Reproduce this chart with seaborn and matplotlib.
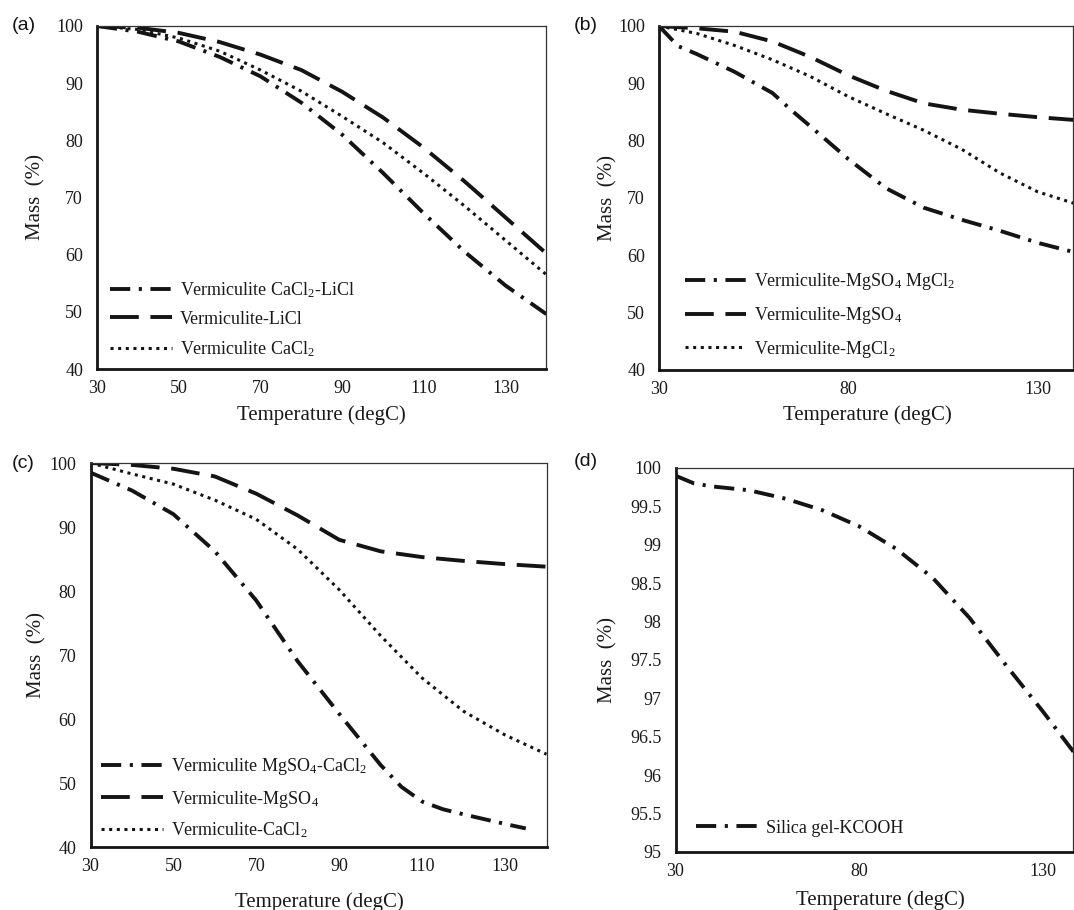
import matplotlib
matplotlib.use("Agg")
import matplotlib.pyplot as plt
import numpy as np
import pandas as pd
import seaborn as sns

# ---------------- data ----------------
T10 = [30, 40, 50, 60, 70, 80, 90, 100, 110, 120, 130, 140]

# (a)
a_cacl2_licl = [100, 99.0, 97.3, 94.6, 91.2, 86.6, 81.0, 74.3, 67.2, 60.5, 54.6, 49.6]
a_licl = [100, 99.7, 98.8, 97.2, 95.0, 92.3, 88.5, 84.0, 78.7, 72.8, 66.5, 60.2]
a_cacl2 = [100, 99.4, 97.9, 95.6, 92.3, 88.6, 84.2, 79.6, 74.2, 68.5, 62.5, 56.5]

# (b)
b_T_dd = [30, 35, 40, 50, 60, 65, 70, 80, 90, 100, 110, 120, 130, 140]
b_mgso4_mgcl2 = [100, 96.5, 95.1, 92.0, 88.3, 85.3, 82.5, 76.8, 71.7, 68.3, 66.2, 64.3, 62.2, 60.5]
b_mgso4 = [100, 99.6, 99.0, 97.3, 94.6, 91.4, 88.7, 86.5, 85.4, 84.7, 84.1, 83.6]
b_mgcl2 = [100, 98.7, 96.6, 94.1, 91.2, 87.7, 84.7, 81.8, 78.5, 74.4, 71.1, 69.0]

# (c)
c_T_dd = [30, 40, 50, 60, 70, 80, 90, 100, 105, 110, 115, 120, 130, 135]
c_mgso4_cacl2 = [98.5, 95.7, 92.0, 86.2, 78.5, 69.0, 60.8, 52.8, 49.4, 47.1, 45.9, 45.1, 43.6, 42.9]
c_mgso4 = [100, 99.7, 99.1, 97.9, 95.2, 91.8, 88.0, 86.2, 85.3, 84.7, 84.2, 83.8]
c_cacl2 = [100, 98.3, 96.7, 94.2, 91.2, 86.5, 80.2, 73.0, 66.4, 61.2, 57.5, 54.5]

# (d)
d_T = [30, 35, 40, 50, 60, 70, 80, 90, 100, 110, 120, 130, 140]
d_silica_kcooh = [99.9, 99.8, 99.76, 99.71, 99.60, 99.45, 99.24, 98.95, 98.57, 98.05, 97.43, 96.83, 96.2]

# ---------------- style ----------------
sns.set_theme(style="white")
plt.rcParams["font.family"] = ["Liberation Serif", "DejaVu Serif"]
plt.rcParams["mathtext.fontset"] = "custom"
plt.rcParams["mathtext.rm"] = "Liberation Serif"
plt.rcParams["mathtext.it"] = "Liberation Serif:italic"
plt.rcParams["text.color"] = "#1a1a1a"
plt.rcParams["axes.labelcolor"] = "#1a1a1a"
plt.rcParams["xtick.color"] = "#1a1a1a"
plt.rcParams["ytick.color"] = "#1a1a1a"

INK = "#141414"
DASHDOT = dict(lw=2.8, ls=(0, (5.2, 2.2, 0.8, 2.2)))
LONGDASH = dict(lw=2.8, ls=(0, (7.4, 3.0)))
DOTTED = dict(lw=2.2, ls=(0, (1.0, 1.5)))

W, H = 1074, 910
fig = plt.figure(figsize=(W / 100, H / 100), dpi=100)


def px_axes(left, right, top, bottom):
    return fig.add_axes([left / W, 1 - bottom / H, (right - left) / W, (bottom - top) / H])


def draw(ax, series, xlim, ylim, xticks, yticks, ylab_x, xlab_y, xlab_x, leg_anchor, lspace):
    for T, vals, label, style in series:
        df = pd.DataFrame({"T": T, "m": vals})
        sns.lineplot(data=df, x="T", y="m", ax=ax, color=INK, label=label,
                     errorbar=None, linewidth=style["lw"], linestyle=style["ls"],
                     dash_capstyle="butt", solid_capstyle="butt")
    ax.set_xlim(*xlim)
    ax.set_ylim(*ylim)
    ax.set_xticks(xticks)
    ax.set_yticks(yticks)
    ax.set_yticklabels([f"{v:g}" for v in yticks])
    ax.tick_params(axis="both", length=0, labelsize=13)
    ax.tick_params(axis="y", pad=10)
    ax.tick_params(axis="x", pad=8)
    for s in ("left", "bottom"):
        ax.spines[s].set_linewidth(2.0)
        ax.spines[s].set_color(INK)
    for s in ("top", "right"):
        ax.spines[s].set_linewidth(0.9)
        ax.spines[s].set_color("#333333")
    ax.set_xlabel("Temperature (degC)", fontsize=15, va="center")
    ax.set_ylabel("Mass  (%)", fontsize=15, va="center")
    ax.xaxis.set_label_coords(xlab_x, xlab_y)
    ax.yaxis.set_label_coords(ylab_x, 0.5)
    ax.grid(False)
    ax.legend(loc="lower left", bbox_to_anchor=leg_anchor, frameon=False,
              fontsize=13, handlelength=3.4, handletextpad=0.45,
              labelspacing=lspace, borderpad=0, borderaxespad=0)


# (a)
ax_a = px_axes(97, 546.4, 26, 369)
draw(ax_a,
     [(T10, a_cacl2_licl, r"Vermiculite CaCl$_\mathregular{2}$-LiCl", DASHDOT),
      (T10, a_licl, "Vermiculite-LiCl", LONGDASH),
      (T10, a_cacl2, r"Vermiculite CaCl$_\mathregular{2}$", DOTTED)],
     (30, 140), (40, 100), [30, 50, 70, 90, 110, 130], [40, 50, 60, 70, 80, 90, 100],
     -0.136, -0.134, 0.5, (0.03, 0.03), 0.62)

# (b)
ax_b = px_axes(659, 1073, 26, 370)
draw(ax_b,
     [(b_T_dd, b_mgso4_mgcl2, r"Vermiculite-MgSO$_\mathregular{4}$ MgCl$_\mathregular{2}$", DASHDOT),
      (T10, b_mgso4, r"Vermiculite-MgSO$_\mathregular{4}$", LONGDASH),
      (T10, b_mgcl2, r"Vermiculite-MgCl$_\mathregular{2}$", DOTTED)],
     (30, 139.4), (40, 100), [30, 80, 130], [40, 50, 60, 70, 80, 90, 100],
     -0.123, -0.131, 0.503, (0.062, 0.03), 0.7)

# (c)
ax_c = px_axes(90.5, 546.5, 463, 847)
draw(ax_c,
     [(c_T_dd, c_mgso4_cacl2, r"Vermiculite MgSO$_\mathregular{4}$-CaCl$_\mathregular{2}$", DASHDOT),
      (T10, c_mgso4, r"Vermiculite-MgSO$_\mathregular{4}$", LONGDASH),
      (T10, c_cacl2, r"Vermiculite-CaCl$_\mathregular{2}$", DOTTED)],
     (30, 140), (40, 100), [30, 50, 70, 90, 110, 130], [40, 50, 60, 70, 80, 90, 100],
     -0.117, -0.143, 0.503, (0.024, 0.017), 0.62)

# (d)
ax_d = px_axes(675.5, 1073, 468, 852)
draw(ax_d,
     [(d_T, d_silica_kcooh, "Silica gel-KCOOH", DASHDOT)],
     (30, 138.2), (95, 100), [30, 80, 130], list(np.arange(95, 100.01, 0.5)),
     -0.17, -0.125, 0.516, (0.052, 0.04), 0.62)

# panel letters
for txt, x, y in (("(a)", 12, 25), ("(b)", 574, 25), ("(c)", 12, 463), ("(d)", 574, 462)):
    fig.text(x / W, 1 - y / H, txt, ha="left", va="center", fontsize=14,
             family=["Liberation Sans", "DejaVu Sans"], color=INK)

fig.savefig("out.png", dpi=100)
